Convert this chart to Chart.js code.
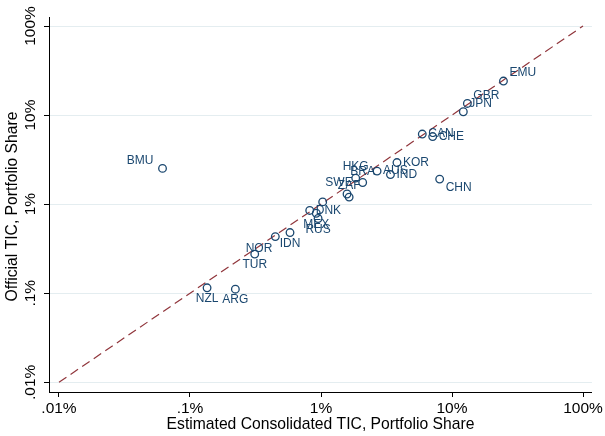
<!DOCTYPE html>
<html>
<head>
<meta charset="utf-8">
<script src="https://cdn.jsdelivr.net/npm/chart.js@4.4.1/dist/chart.umd.min.js"></script>
<style>
  html, body { margin: 0; padding: 0; background: #fff; }
</style>
</head>
<body>
<canvas id="ticScatter" width="605" height="436"></canvas>
<script>
// country codes, estimated consolidated share (x, %) and official share (y, %)
const countries = ['EMU', 'GBR', 'JPN', 'CAN', 'CHE', 'KOR', 'IND', 'AUS', 'CHN', 'HKG', 'BRA', 'SWE',
                   'ZAF', '', 'DNK', 'MEX', 'RUS', 'IDN', 'NOR', 'TUR', 'NZL', 'ARG', 'BMU'];
const estimated = [24.7, 13.1, 12.2, 5.93, 7.12, 3.80, 3.39, 2.68, 8.05, 1.84, 2.08, 1.58,
                   1.64, 1.03, 0.82, 0.92, 0.95, 0.58, 0.448, 0.312, 0.135, 0.222, 0.0617];
const official = [24.1, 13.5, 10.9, 6.12, 5.74, 2.93, 2.15, 2.35, 1.91, 1.96, 1.75, 1.30,
                  1.20, 1.06, 0.85, 0.79, 0.69, 0.48, 0.432, 0.275, 0.115, 0.111, 2.52];
// marker label clock position (Stata style)
const labelPos = [2, 2, 2, 3, 3, 3, 3, 3, 4, 12, 12, 11, 12, 0, 3, 6, 6, 6, 7, 6, 6, 6, 10];

const tickValues = [0.01, 0.1, 1, 10, 100];
const tickLabels = ['.01%', '.1%', '1%', '10%', '100%'];
const diagonal = [0.01, 100];

const navy = '#1a476f';
const fontFamily = "'Liberation Sans', Arial, sans-serif";

const clockOffset = (pos) => {
  switch (pos) {
    case 2: return [6, -8, 'left'];
    case 3: return [6, 0, 'left'];
    case 4: return [6, 9, 'left'];
    case 6: return [0, 11, 'center'];
    case 7: return [-3, 12, 'right'];
    case 10: return [-9, -8, 'right'];
    case 11: return [-8, -11, 'center'];
    case 12: return [0, -11, 'center'];
    default: return null;
  }
}

const pointLabels = {
  id: 'pointLabels',
  afterDatasetsDraw: (chart) => {
    const ctx = chart.ctx;
    const meta = chart.getDatasetMeta(1);
    ctx.save();
    ctx.font = '12px ' + fontFamily;
    ctx.fillStyle = navy;
    ctx.textBaseline = 'middle';
    meta.data.forEach((pt, i) => {
      const off = clockOffset(labelPos[i]);
      if (!off || !countries[i]) return;
      ctx.textAlign = off[2];
      ctx.fillText(countries[i], pt.x + off[0], pt.y + off[1]);
    });
    ctx.restore();
  }
}

// y tick labels and title are drawn rotated, as in the Stata original
const yAxisText = {
  id: 'yAxisText',
  afterDraw: (chart) => {
    const ctx = chart.ctx;
    const y = chart.scales.y;
    const area = chart.chartArea;
    ctx.save();
    ctx.fillStyle = '#000';
    ctx.textAlign = 'center';
    ctx.textBaseline = 'middle';
    ctx.font = '15.5px ' + fontFamily;
    tickValues.forEach((v, i) => {
      ctx.save();
      ctx.translate(31, y.getPixelForValue(v));
      ctx.rotate(-Math.PI / 2);
      ctx.fillText(tickLabels[i], 0, 0);
      ctx.restore();
    });
    ctx.font = '15.7px ' + fontFamily;
    ctx.translate(13, (area.top + area.bottom) / 2 + 2);
    ctx.rotate(-Math.PI / 2);
    ctx.fillText('Official TIC, Portfolio Share', 0, 0);
    ctx.restore();
  }
}

const setTicks = (scale) => {
  scale.ticks = tickValues.map(v => ({ value: v }));
}

const canvas = document.getElementById('ticScatter');
const chart = new Chart(canvas.getContext('2d'), {
  type: 'scatter',
  data: {
    datasets: [{
      type: 'line',
      data: diagonal.map(v => ({ x: v, y: v })),
      borderColor: '#90353b',
      borderWidth: 1.2,
      borderDash: [9, 5],
      pointRadius: 0,
      fill: false,
      order: 2
    }, {
      data: estimated.map((x, i) => ({ x: x, y: official[i] })),
      pointStyle: 'circle',
      pointRadius: 3.8,
      pointHoverRadius: 3.8,
      backgroundColor: 'rgba(0,0,0,0)',
      borderColor: navy,
      borderWidth: 1.3,
      order: 1
    }]
  },
  options: {
    responsive: false,
    animation: false,
    layout: { padding: { top: 17, right: 10, left: 0, bottom: 0 } },
    plugins: {
      legend: { display: false },
      tooltip: { enabled: false }
    },
    scales: {
      x: {
        type: 'logarithmic',
        position: 'bottom',
        min: 0.00839,
        max: 117,
        afterBuildTicks: setTicks,
        afterFit: (scale) => { scale.height = 44; },
        grid: { drawOnChartArea: false, tickLength: 5, tickColor: '#000' },
        border: { display: true, color: '#000', width: 1 },
        ticks: {
          color: '#000',
          padding: 2,
          maxRotation: 0,
          font: { family: fontFamily, size: 15.5 },
          callback: (v) => tickLabels[tickValues.indexOf(v)]
        },
        title: {
          display: true,
          text: 'Estimated Consolidated TIC, Portfolio Share',
          color: '#000',
          font: { family: fontFamily, size: 15.7 },
          padding: { top: 0, bottom: 2 }
        }
      },
      y: {
        type: 'logarithmic',
        position: 'left',
        min: 0.00778,
        max: 126.2,
        afterBuildTicks: setTicks,
        afterFit: (scale) => { scale.width = 49; },
        grid: { color: '#e4edf0', tickLength: 5, tickColor: '#000' },
        border: { display: true, color: '#000', width: 1 },
        ticks: { display: false }
      }
    }
  },
  plugins: [pointLabels, yAxisText]
});
</script>
</body>
</html>
